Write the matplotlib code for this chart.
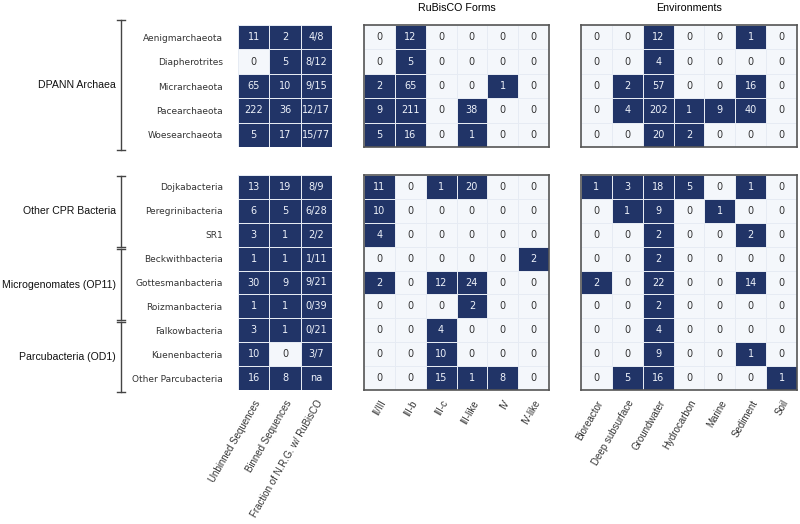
import numpy as np
import matplotlib.pyplot as plt
from matplotlib.colors import ListedColormap
from matplotlib.lines import Line2D

# --- data ---
top_names = ["Aenigmarchaeota", "Diapherotrites", "Micrarchaeota", "Pacearchaeota", "Woesearchaeota"]
bottom_names = ["Dojkabacteria", "Peregrinibacteria", "SR1", "Beckwithbacteria", "Gottesmanbacteria",
                "Roizmanbacteria", "Falkowbacteria", "Kuenenbacteria", "Other Parcubacteria"]

seq_cols = ["Unbinned Sequences", "Binned Sequences", "Fraction of N.R.G. w/ RuBisCO"]
unbinned_top = [11, 0, 65, 222, 5]
binned_top = [2, 5, 10, 36, 17]
fraction_top = ["4/8", "8/12", "9/15", "12/17", "15/77"]
unbinned_bottom = [13, 6, 3, 1, 30, 1, 3, 10, 16]
binned_bottom = [19, 5, 1, 1, 9, 1, 1, 0, 8]
fraction_bottom = ["8/9", "6/28", "2/2", "1/11", "9/21", "0/39", "0/21", "3/7", "na"]

forms = ["II/III", "III-b", "III-c", "III-like", "IV", "IV-like"]
forms_top = [
    [0, 12, 0, 0, 0, 0],
    [0, 5, 0, 0, 0, 0],
    [2, 65, 0, 0, 1, 0],
    [9, 211, 0, 38, 0, 0],
    [5, 16, 0, 1, 0, 0],
]
forms_bottom = [
    [11, 0, 1, 20, 0, 0],
    [10, 0, 0, 0, 0, 0],
    [4, 0, 0, 0, 0, 0],
    [0, 0, 0, 0, 0, 2],
    [2, 0, 12, 24, 0, 0],
    [0, 0, 0, 2, 0, 0],
    [0, 0, 4, 0, 0, 0],
    [0, 0, 10, 0, 0, 0],
    [0, 0, 15, 1, 8, 0],
]

envs = ["Bioreactor", "Deep subsurface", "Groundwater", "Hydrocarbon", "Marine", "Sediment", "Soil"]
envs_top = [
    [0, 0, 12, 0, 0, 1, 0],
    [0, 0, 4, 0, 0, 0, 0],
    [0, 2, 57, 0, 0, 16, 0],
    [0, 4, 202, 1, 9, 40, 0],
    [0, 0, 20, 2, 0, 0, 0],
]
envs_bottom = [
    [1, 3, 18, 5, 0, 1, 0],
    [0, 1, 9, 0, 1, 0, 0],
    [0, 0, 2, 0, 0, 2, 0],
    [0, 0, 2, 0, 0, 0, 0],
    [2, 0, 22, 0, 0, 14, 0],
    [0, 0, 2, 0, 0, 0, 0],
    [0, 0, 4, 0, 0, 0, 0],
    [0, 0, 9, 0, 0, 1, 0],
    [0, 5, 16, 0, 0, 0, 1],
]

groups = ["DPANN Archaea", "Other CPR Bacteria", "Microgenomates (OP11)", "Parcubacteria (OD1)"]

DARK = "#213467"
LIGHT = "#f4f7fb"
cmap = ListedColormap([LIGHT, DARK])
SANS = ["Liberation Sans", "DejaVu Sans"]


def draw_heat(ax, values, labels, framed=True):
    values = np.array(values, dtype=float)
    on = (values > 0).astype(int)
    nrows, ncols = on.shape
    ax.pcolormesh(on, cmap=cmap, vmin=0, vmax=1, edgecolors="#e6ebf3", linewidth=0.6)
    for i in range(nrows):
        for j in range(ncols):
            ax.text(j + 0.5, i + 0.5, labels[i][j], ha="center", va="center", fontsize=7,
                    color="#eef2fa" if on[i, j] else "#333333")
    ax.set_xlim(0, ncols)
    ax.set_ylim(nrows, 0)
    ax.set_xticks([])
    ax.set_yticks([])
    for s in ax.spines.values():
        s.set_visible(framed)
        s.set_color("#555555")
        s.set_linewidth(1.2)


def seq_matrix(unb, bn, frac):
    vals = [[u, b, 1] for u, b in zip(unb, bn)]
    labs = [[str(u), str(b), f] for u, b, f in zip(unb, bn, frac)]
    return vals, labs


fig = plt.figure(figsize=(8, 5.24), dpi=100)

H = 524.0
W = 800.0


def box(x0, x1, y0, y1):
    return [x0 / W, 1 - y1 / H, (x1 - x0) / W, (y1 - y0) / H]


top_y = (25, 147)
bot_y = (175, 390)
left_x = (238, 332)
mid_x = (364, 549)
right_x = (581, 797)

ax_lt = fig.add_axes(box(*left_x, *top_y))
ax_lb = fig.add_axes(box(*left_x, *bot_y))
ax_mt = fig.add_axes(box(*mid_x, *top_y))
ax_mb = fig.add_axes(box(*mid_x, *bot_y))
ax_rt = fig.add_axes(box(*right_x, *top_y))
ax_rb = fig.add_axes(box(*right_x, *bot_y))

v, l = seq_matrix(unbinned_top, binned_top, fraction_top)
draw_heat(ax_lt, v, l, framed=False)
v, l = seq_matrix(unbinned_bottom, binned_bottom, fraction_bottom)
draw_heat(ax_lb, v, l, framed=False)

draw_heat(ax_mt, forms_top, [[str(x) for x in r] for r in forms_top])
draw_heat(ax_mb, forms_bottom, [[str(x) for x in r] for r in forms_bottom])
draw_heat(ax_rt, envs_top, [[str(x) for x in r] for r in envs_top])
draw_heat(ax_rb, envs_bottom, [[str(x) for x in r] for r in envs_bottom])

# row labels
for ax, names in [(ax_lt, top_names), (ax_lb, bottom_names)]:
    ax.set_yticks(np.arange(len(names)) + 0.5)
    ax.set_yticklabels(names, fontsize=6.5, color="#333333")
    ax.tick_params(axis="y", length=0, pad=11)

# column labels
for ax, cols in [(ax_lb, seq_cols), (ax_mb, forms), (ax_rb, envs)]:
    ax.set_xticks(np.arange(len(cols)) + 0.5)
    ax.set_xticklabels(cols, rotation=60, ha="right", rotation_mode="anchor",
                       fontsize=7, family=SANS, color="#333333")
    ax.tick_params(axis="x", length=0, pad=6)

ax_mt.set_title("RuBisCO Forms", fontsize=7.7, family=SANS, pad=10)
ax_rt.set_title("Environments", fontsize=7.7, family=SANS, pad=10)

# group brackets
bx = 121
spans = [(20, 150), (176, 247), (249, 320), (322, 392)]
for name, (y0, y1) in zip(groups, spans):
    fig.add_artist(Line2D([bx / W, bx / W], [1 - y0 / H, 1 - y1 / H], color="#444444", lw=1.0))
    for yy in (y0, y1):
        fig.add_artist(Line2D([(bx - 4) / W, (bx + 4) / W], [1 - yy / H, 1 - yy / H],
                              color="#444444", lw=1.0))
    fig.text((bx - 5) / W, 1 - (y0 + y1) / 2 / H, name, ha="right", va="center",
             fontsize=7.6, family=SANS, color="#111111")

fig.savefig("out.png", dpi=100)
